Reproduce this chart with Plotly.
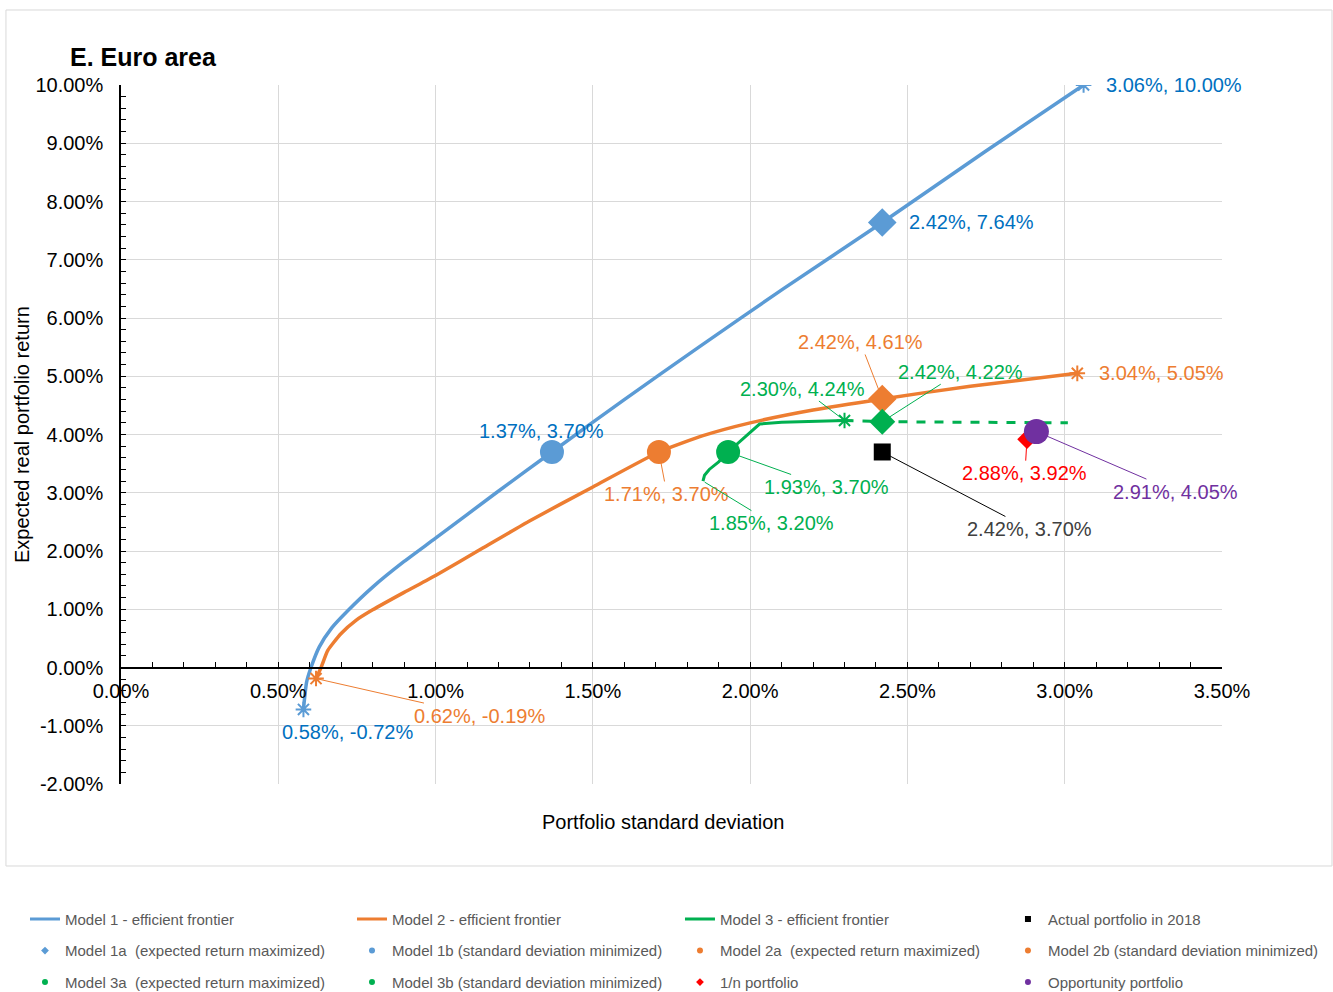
import plotly.graph_objects as go

# ---------------- data (percent units) ----------------
m1_x = [0.58, 0.59, 0.604, 0.63, 0.67, 0.72, 0.80, 0.90, 1.00, 1.193, 1.37, 1.60, 1.837, 2.105, 2.42, 2.745, 3.06]
m1_y = [-0.72, -0.25, 0.00, 0.35, 0.68, 0.97, 1.38, 1.82, 2.22, 3.00, 3.70, 4.60, 5.50, 6.50, 7.64, 8.85, 10.00]

m2_x = [0.62, 0.636, 0.657, 0.699, 0.747, 0.80, 0.90, 1.00, 1.15, 1.30, 1.50, 1.71, 1.85, 2.00, 2.20, 2.42, 2.70, 3.04]
m2_y = [-0.19, 0.00, 0.29, 0.58, 0.81, 0.99, 1.29, 1.58, 2.05, 2.52, 3.10, 3.70, 3.98, 4.20, 4.42, 4.61, 4.83, 5.05]

m3_x = [1.85, 1.855, 1.87, 1.90, 1.93, 2.03, 2.10, 2.30]
m3_y = [3.20, 3.30, 3.40, 3.53, 3.70, 4.18, 4.21, 4.24]

m3_ext_x = [2.30, 2.42, 3.01]
m3_ext_y = [4.24, 4.22, 4.20]

m1_end_x = [0.58, 3.06]
m1_end_y = [-0.72, 10.00]
m2_end_x = [0.62, 3.04]
m2_end_y = [-0.19, 5.05]
m3_end_x = [1.85, 2.30]
m3_end_y = [3.20, 4.24]

actual_x, actual_y = [2.42], [3.70]
m1a_x, m1a_y = [2.42], [7.64]
m1b_x, m1b_y = [1.37], [3.70]
m2a_x, m2a_y = [2.42], [4.61]
m2b_x, m2b_y = [1.71], [3.70]
m3a_x, m3a_y = [2.42], [4.22]
m3b_x, m3b_y = [1.93], [3.70]
onen_x, onen_y = [2.88], [3.92]
opp_x, opp_y = [2.91], [4.05]

x_tickvals = [0.0, 0.5, 1.0, 1.5, 2.0, 2.5, 3.0, 3.5]
x_ticktext = ["0.00%", "0.50%", "1.00%", "1.50%", "2.00%", "2.50%", "3.00%", "3.50%"]
y_tickvals = [-2, -1, 0, 1, 2, 3, 4, 5, 6, 7, 8, 9, 10]
y_ticktext = ["-2.00%", "-1.00%", "0.00%", "1.00%", "2.00%", "3.00%", "4.00%", "5.00%",
              "6.00%", "7.00%", "8.00%", "9.00%", "10.00%"]

legend_cols = [
    ["Model 1 - efficient frontier", "Model 1a  (expected return maximized)", "Model 3a  (expected return maximized)"],
    ["Model 2 - efficient frontier", "Model 1b (standard deviation minimized)", "Model 3b (standard deviation minimized)"],
    ["Model 3 - efficient frontier", "Model 2a  (expected return maximized)", "1/n portfolio"],
    ["Actual portfolio in 2018", "Model 2b (standard deviation minimized)", "Opportunity portfolio"],
]

BLUE = "#5B9BD5"; BLUE_T = "#0070C0"
ORANGE = "#ED7D31"; GREEN = "#00B050"; RED = "#FF0000"; PURPLE = "#7030A0"
FONT = "Liberation Sans, Arial, sans-serif"

fig = go.Figure()

# lines
fig.add_trace(go.Scatter(x=m1_x, y=m1_y, mode="lines", line=dict(color=BLUE, width=3.5, shape="spline", smoothing=0.6), showlegend=False))
fig.add_trace(go.Scatter(x=m2_x, y=m2_y, mode="lines", line=dict(color=ORANGE, width=3.5, shape="spline", smoothing=0.5), showlegend=False))
fig.add_trace(go.Scatter(x=m3_x, y=m3_y, mode="lines", line=dict(color=GREEN, width=3), showlegend=False))
fig.add_trace(go.Scatter(x=m3_ext_x, y=m3_ext_y, mode="lines", line=dict(color=GREEN, width=3, dash="dash"), showlegend=False))

# endpoints (asterisks)
for ex, ey, c in [(m1_end_x, m1_end_y, BLUE), (m2_end_x, m2_end_y, ORANGE), (m3_end_x[1:], m3_end_y[1:], GREEN)]:
    fig.add_trace(go.Scatter(x=ex, y=ey, mode="markers",
                             marker=dict(symbol="asterisk-open", size=13, color=c, line=dict(color=c, width=2)),
                             showlegend=False))

# portfolio markers
pts = [
    (actual_x, actual_y, "square", "black", 17),
    (m1a_x, m1a_y, "diamond", BLUE, 22),
    (m1b_x, m1b_y, "circle", BLUE, 24),
    (m2a_x, m2a_y, "diamond", ORANGE, 22),
    (m2b_x, m2b_y, "circle", ORANGE, 24),
    (m3a_x, m3a_y, "diamond", GREEN, 20),
    (m3b_x, m3b_y, "circle", GREEN, 24),
    (onen_x, onen_y, "diamond", RED, 15),
    (opp_x, opp_y, "circle", PURPLE, 25),
]
for px_, py_, sym, c, s in pts:
    fig.add_trace(go.Scatter(x=px_, y=py_, mode="markers", marker=dict(symbol=sym, color=c, size=s), showlegend=False))

# legend-only entries, one legend per column
leg_styles = [
    [("line", BLUE, None), ("marker", BLUE, "diamond"), ("marker", GREEN, "circle")],
    [("line", ORANGE, None), ("marker", BLUE, "circle"), ("marker", GREEN, "circle")],
    [("line", GREEN, None), ("marker", ORANGE, "circle"), ("marker", RED, "diamond")],
    [("marker", "black", "square"), ("marker", ORANGE, "circle"), ("marker", PURPLE, "circle")],
]
legend_ids = ["legend", "legend2", "legend3", "legend4"]
k = 0
for lid, names, styles in zip(legend_ids, legend_cols, leg_styles):
    for name, (kind, c, sym) in zip(names, styles):
        k += 1
        common = dict(x=[None], y=[None], name=name, legend=lid, legendgroup=f"g{k}")
        if kind == "line":
            fig.add_trace(go.Scatter(mode="lines", line=dict(color=c, width=3), **common))
        else:
            fig.add_trace(go.Scatter(mode="markers", marker=dict(symbol=sym, color=c, size=6), **common))

def lab(x, y, color, **kw):
    base = dict(x=x, y=y, text=f"{x:.2f}%, {y:.2f}%", font=dict(color=color, size=20, family=FONT),
                arrowcolor=color, arrowwidth=1, arrowhead=0)
    base.update(kw)
    fig.add_annotation(**base)

# labels without leaders
lab(m1_end_x[1], m1_end_y[1], BLUE_T, showarrow=False, xanchor="left", xshift=20)
lab(m1a_x[0], m1a_y[0], BLUE_T, showarrow=False, xanchor="left", xshift=25)
lab(m1b_x[0], m1b_y[0], BLUE_T, showarrow=False, xshift=-10, yshift=21)
lab(m1_end_x[0], m1_end_y[0], BLUE_T, showarrow=False, xanchor="left", xshift=-23, yshift=-23)
lab(m2_end_x[1], m2_end_y[1], ORANGE, showarrow=False, xanchor="left", xshift=20)

# labels with leader lines
lab(m2_end_x[0], m2_end_y[0], ORANGE, showarrow=True, ax=163, ay=37, standoff=2)
lab(m2a_x[0], m2a_y[0], ORANGE, showarrow=True, ax=-22, ay=-57, standoff=9)
lab(m2b_x[0], m2b_y[0], ORANGE, showarrow=True, ax=8, ay=42, standoff=10)
lab(m3a_x[0], m3a_y[0], GREEN, showarrow=True, ax=78, ay=-50, standoff=8)
lab(m3b_x[0], m3b_y[0], GREEN, showarrow=True, ax=98, ay=35, standoff=10)
lab(m3_end_x[1], m3_end_y[1], GREEN, showarrow=True, ax=-42, ay=-32, standoff=4)
lab(m3_end_x[0], m3_end_y[0], GREEN, showarrow=True, ax=69, ay=42, standoff=2)
lab(actual_x[0], actual_y[0], "#404040", showarrow=True, ax=147, ay=77, standoff=9, arrowcolor="black")
lab(onen_x[0], onen_y[0], RED, showarrow=True, ax=-2, ay=34, standoff=6)
lab(opp_x[0], opp_y[0], PURPLE, showarrow=True, ax=139, ay=60, standoff=11)

# titles
fig.add_annotation(text="<b>E. Euro area</b>", xref="paper", yref="paper", x=-0.0481, y=1.040,
                   xanchor="left", yanchor="middle", showarrow=False, font=dict(size=25, color="black", family=FONT))
fig.add_annotation(text="Portfolio standard deviation", xref="paper", yref="paper", x=0.4923, y=-0.0544,
                   xanchor="center", yanchor="middle", showarrow=False, font=dict(size=20, color="black", family=FONT))
fig.add_annotation(text="Expected real portfolio return", xref="paper", yref="paper", x=-0.0899, y=0.4993,
                   xanchor="center", yanchor="middle", textangle=-90, showarrow=False, font=dict(size=20, color="black", family=FONT))

# chart border
fig.add_shape(type="rect", xref="paper", yref="paper", x0=-0.1045, x1=1.0999, y0=-0.1173, y1=1.1073,
              line=dict(color="#D9D9D9", width=1), layer="below")

leg_font = dict(size=15, color="#595959", family=FONT)
leg_common = dict(orientation="v", y=-0.170, xanchor="left", yanchor="top", traceorder="grouped",
                  tracegroupgap=9, font=leg_font, bgcolor="rgba(0,0,0,0)")

fig.update_layout(
    width=1333, height=992,
    margin=dict(l=121, r=111, t=85, b=208, autoexpand=False),
    paper_bgcolor="white", plot_bgcolor="white",
    font=dict(family=FONT, size=20, color="black"),
    xaxis=dict(range=[0, 3.5], tickmode="array", tickvals=x_tickvals, ticktext=x_ticktext,
               showgrid=True, gridcolor="#D9D9D9", gridwidth=1, zeroline=False,
               showline=True, linecolor="black", linewidth=1.5,
               anchor="free", position=1/6, ticks="inside", ticklen=5, tickcolor="black",
               ticklabelstandoff=6,
               minor=dict(dtick=0.1, tick0=0, ticks="inside", ticklen=5, tickcolor="black", showgrid=False),
               tickfont=dict(size=20, family=FONT)),
    yaxis=dict(range=[-2, 10], tickmode="array", tickvals=y_tickvals, ticktext=y_ticktext,
               showgrid=True, gridcolor="#D9D9D9", gridwidth=1, zeroline=False,
               showline=True, linecolor="black", linewidth=1.5,
               ticks="inside", ticklen=5, tickcolor="black", ticklabelstandoff=12,
               minor=dict(dtick=0.2, tick0=0, ticks="inside", ticklen=5, tickcolor="black", showgrid=False),
               tickfont=dict(size=20, family=FONT)),
    legend=dict(x=-0.0872, **leg_common),
    legend2=dict(x=0.2098, **leg_common),
    legend3=dict(x=0.5077, **leg_common),
    legend4=dict(x=0.8056, **leg_common),
)

fig.write_html("out.html", config={"displayModeBar": False},
               post_script="document.body.style.margin='0';document.body.style.overflow='hidden';")
